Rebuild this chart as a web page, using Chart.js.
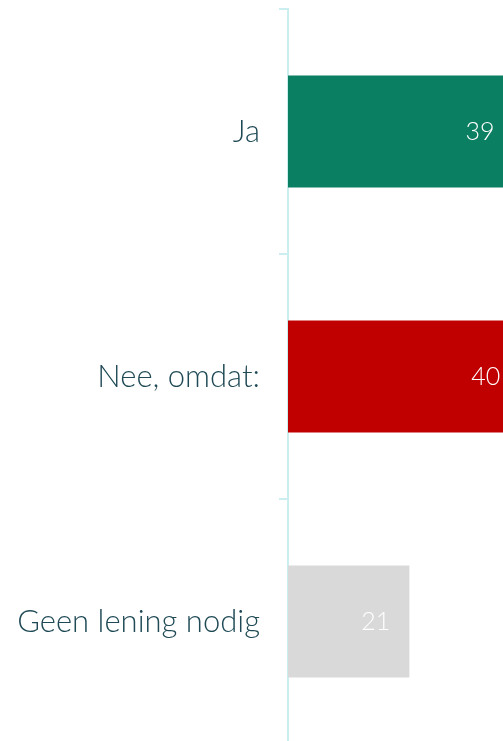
<!DOCTYPE html>
<html>
<head>
<meta charset="utf-8">
<script src="https://cdn.jsdelivr.net/npm/chart.js@4/dist/chart.umd.min.js"></script>
<style>
  html, body { margin: 0; padding: 0; background: #ffffff; overflow: hidden; }
  #wrap { width: 503px; height: 741px; overflow: hidden; }
  canvas { display: block; }
</style>
</head>
<body>
<div id="wrap"><canvas id="c" width="503" height="760"></canvas></div>
<script>
const categories = ["Ja", "Nee, omdat:", "Geen lening nodig"];
const values = [39, 40, 21];
const barColors = ["#0b7f62", "#c00000", "#d9d9d9"];

const valueLabels = {
  id: "valueLabels",
  afterDatasetsDraw(chart) {
    const ctx = chart.ctx;
    const meta = chart.getDatasetMeta(0);
    ctx.save();
    ctx.font = "300 25px Lato, 'Open Sans', sans-serif";
    ctx.fillStyle = "#ffffff";
    ctx.textAlign = "right";
    ctx.textBaseline = "middle";
    meta.data.forEach((bar, i) => {
      ctx.fillText(String(values[i]), bar.x - 19, bar.y);
    });
    ctx.restore();
  }
};

new Chart(document.getElementById("c"), {
  type: "bar",
  data: {
    labels: categories,
    datasets: [{
      data: values,
      backgroundColor: barColors,
      borderWidth: 0,
      barPercentage: 0.457,
      categoryPercentage: 1
    }]
  },
  options: {
    indexAxis: "y",
    responsive: false,
    animation: false,
    layout: { padding: { top: 9, bottom: 16, left: 0, right: 0 } },
    plugins: { legend: { display: false }, tooltip: { enabled: false } },
    scales: {
      x: {
        display: false,
        min: 0,
        max: 37.2
      },
      y: {
        afterFit(scale) {
          scale.width = 288;
          scale.paddingTop = 0;
          scale.paddingBottom = 0;
        },
        border: { display: true, color: "#cdeef1", width: 2 },
        grid: {
          drawOnChartArea: false,
          drawTicks: true,
          tickLength: 9,
          color: "#cdeef1",
          lineWidth: 2,
          offset: true
        },
        ticks: {
          padding: 19,
          color: "#1f4a55",
          font: { family: "Lato, 'Open Sans', sans-serif", size: 31, weight: 300 }
        }
      }
    }
  },
  plugins: [valueLabels]
});
</script>
</body>
</html>
